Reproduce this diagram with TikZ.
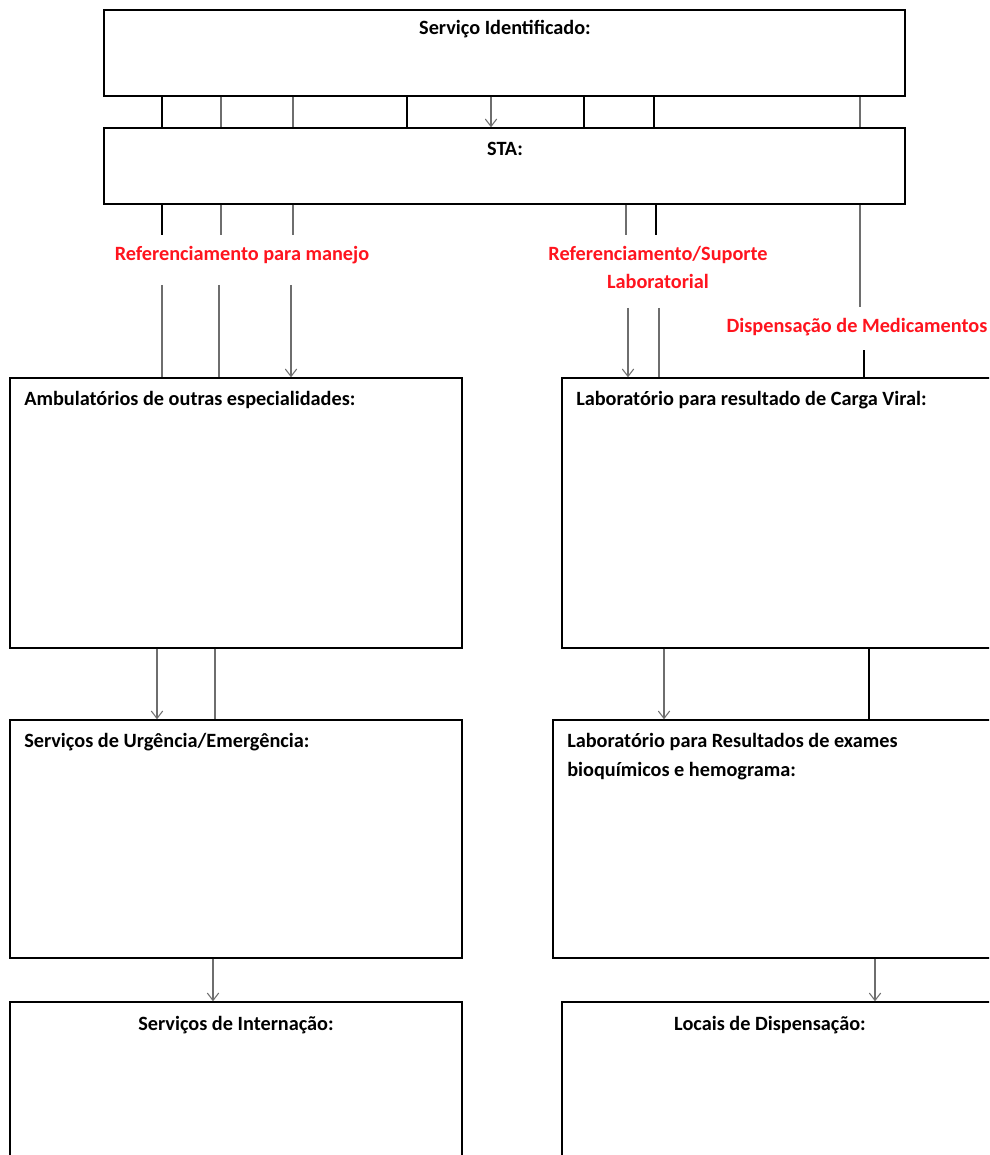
\documentclass[tikz,border=0pt]{standalone}
\usepackage{fontspec}
\setmainfont{Carlito}
\usetikzlibrary{arrows.meta,fit}
\definecolor{refred}{RGB}{255,20,30}
\definecolor{lightline}{RGB}{110,110,110}
\begin{document}
\begin{tikzpicture}[x=0.75pt,y=-0.75pt,
  box/.style={draw=black, line width=1.1pt, inner sep=0pt},
  ttl/.style={font=\fontsize{15.2}{18}\selectfont\bfseries, text=black, inner sep=0pt, text height=0.7em, text depth=0.2em},
  redlbl/.style={ttl, text=refred},
  conn/.style={draw=black, line width=0.8pt},
  connl/.style={draw=lightline, line width=0.8pt},
  arr/.style={connl, -{Straight Barb[length=5.5pt,width=8.5pt]}}]
\useasboundingbox (0,0) rectangle (989,1155);
\clip (0,0) rectangle (989,1155);
% boxes
\node[box, fit={(104,10) (905,96)}] (sid) {};
\node[ttl] (sidt) at (505,31) {Serviço Identificado:};
\node[box, fit={(104,128) (905,204)}] (sta) {};
\node[ttl] (stat) at (505,152) {STA:};
\node[box, fit={(10,378) (462,648)}] (amb) {};
\node[ttl, anchor=west] (ambt) at (24,402) {Ambulatórios de outras especialidades:};
\node[box, fit={(562,378) (1010,648)}] (lcv) {};
\node[ttl, anchor=west] (lcvt) at (576,402) {Laboratório para resultado de Carga Viral:};
\node[box, fit={(10,720) (462,958)}] (urg) {};
\node[ttl, anchor=west] (urgt) at (24,744) {Serviços de Urgência/Emergência:};
\node[box, fit={(553,720) (1010,958)}] (lbq) {};
\node[ttl, anchor=west] (lbqt1) at (567,744) {Laboratório para Resultados de exames};
\node[ttl, anchor=west] (lbqt2) at (567,773) {bioquímicos e hemograma:};
\node[box, fit={(10,1002) (462,1190)}] (int) {};
\node[ttl] (intt) at (236,1027) {Serviços de Internação:};
\node[box, fit={(562,1002) (1010,1190)}] (loc) {};
\node[ttl] (loct) at (770,1027) {Locais de Dispensação:};
% red labels
\node[redlbl] (ref1) at (242,257) {Referenciamento para manejo};
\node[redlbl] (ref2a) at (658,257) {Referenciamento/Suporte};
\node[redlbl] (ref2b) at (658,285) {Laboratorial};
\node[redlbl] (disp) at (857,329) {Dispensação de Medicamentos};
% break points of connectors around labels
\coordinate (b1) at (0,235);
\coordinate (b2) at (0,285);
\coordinate (b3) at (0,308);
\coordinate (b4) at (0,307);
\coordinate (b5) at (0,350);
% connectors between Serviço Identificado and STA
\foreach \x in {162,407,584,654} \draw[conn] (\x,0 |- sid.south) -- (\x,0 |- sta.north);
\foreach \x in {221,293,860} \draw[connl] (\x,0 |- sid.south) -- (\x,0 |- sta.north);
\draw[arr] (491,0 |- sid.south) -- (491,0 |- sta.north);
% STA to Ambulatórios
\draw[conn] (162,0 |- sta.south) -- (162,0 |- b1);
\draw[connl] (221,0 |- sta.south) -- (221,0 |- b1);
\draw[connl] (293,0 |- sta.south) -- (293,0 |- b1);
\draw[connl] (162,0 |- b2) -- (162,0 |- amb.north);
\draw[connl] (219,0 |- b2) -- (219,0 |- amb.north);
\draw[arr] (291,0 |- b2) -- (291,0 |- amb.north);
% STA to Laboratório Carga Viral
\draw[connl] (626,0 |- sta.south) -- (626,0 |- b1);
\draw[conn] (656,0 |- sta.south) -- (656,0 |- b1);
\draw[arr] (628,0 |- b3) -- (628,0 |- lcv.north);
\draw[connl] (659,0 |- b3) -- (659,0 |- lcv.north);
\draw[connl] (860,0 |- sta.south) -- (860,0 |- b4);
\draw[conn] (864,0 |- b5) -- (864,0 |- lcv.north);
% lower connectors
\draw[arr] (157,0 |- amb.south) -- (157,0 |- urg.north);
\draw[connl] (215,0 |- amb.south) -- (215,0 |- urg.north);
\draw[arr] (664,0 |- lcv.south) -- (664,0 |- lbq.north);
\draw[conn] (869,0 |- lcv.south) -- (869,0 |- lbq.north);
\draw[arr] (213,0 |- urg.south) -- (213,0 |- int.north);
\draw[arr] (875,0 |- lbq.south) -- (875,0 |- loc.north);
\end{tikzpicture}
\end{document}
